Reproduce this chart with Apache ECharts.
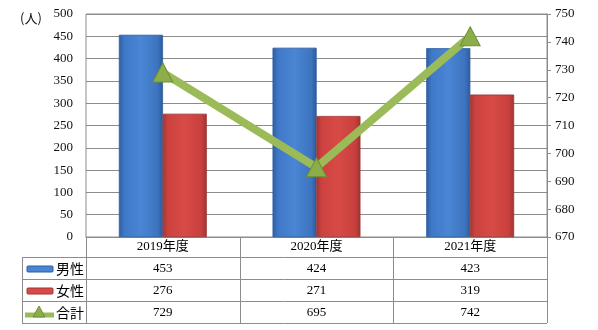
<!DOCTYPE html>
<html><head><meta charset="utf-8">
<script src="https://cdn.jsdelivr.net/npm/echarts@6/dist/echarts.min.js"></script>
<style>html,body{margin:0;padding:0;background:#fff}#c{width:598px;height:330px}</style>
</head><body><div id="c"></div>
<script>
const categories = ['2019年度', '2020年度', '2021年度'];
const maleValues = [453, 424, 423];
const femaleValues = [276, 271, 319];
const totalValues = [729, 695, 742];
const seriesNames = ['男性', '女性', '合計'];
const leftTicks = [0, 500, 50];
const rightTicks = [670, 750, 10];
const unitLabel = '(人)';

const chart = echarts.init(document.getElementById('c'), null, {renderer: 'canvas'});
const G = {left: 86, right: 51, top: 14, bottom: 93};
const numFont = '"Liberation Serif","Noto Sans CJK JP",serif';
const jpFont = '"Noto Sans CJK JP","Liberation Sans",sans-serif';
const grid = '#8c8c8c';

const blueGrad = new echarts.graphic.LinearGradient(0,0,1,0,[
  {offset:0,color:'#2f5fa3'},{offset:0.12,color:'#3f78c6'},{offset:0.5,color:'#4a86d4'},{offset:0.88,color:'#3d74bf'},{offset:1,color:'#2c5a9b'}]);
const redGrad = new echarts.graphic.LinearGradient(0,0,1,0,[
  {offset:0,color:'#a33734'},{offset:0.12,color:'#cc423f'},{offset:0.5,color:'#d84a46'},{offset:0.88,color:'#c8403d'},{offset:1,color:'#9e3532'}]);

chart.setOption({
  animation: false,
  grid: {left: G.left, right: G.right, top: G.top, bottom: G.bottom, show: true, borderColor: grid, borderWidth: 1},
  xAxis: {type: 'category', data: categories,
    axisLine: {show: true, lineStyle: {color: grid}}, axisTick: {show: false}, axisLabel: {show: false}},
  yAxis: [
    {type: 'value', min: leftTicks[0], max: leftTicks[1], interval: leftTicks[2],
     axisLine: {show: false}, axisTick: {show: false},
     splitLine: {lineStyle: {color: grid}},
     axisLabel: {color: '#111', fontFamily: numFont, fontSize: 13, margin: 13}},
    {type: 'value', min: rightTicks[0], max: rightTicks[1], interval: rightTicks[2], position: 'right',
     axisLine: {show: true, lineStyle: {color: grid}}, axisTick: {show: true, length: 4, lineStyle: {color: grid}},
     splitLine: {show: false},
     axisLabel: {color: '#111', fontFamily: numFont, fontSize: 13, margin: 8}}
  ],
  series: [
    {name: seriesNames[0], type: 'bar', data: maleValues, barGap: '0%', barCategoryGap: '43%',
     itemStyle: {color: blueGrad, borderColor: '#2d5c9e', borderWidth: 0.5}},
    {name: seriesNames[1], type: 'bar', data: femaleValues,
     itemStyle: {color: redGrad, borderColor: '#9e3532', borderWidth: 0.5}},
    {name: seriesNames[2], type: 'line', yAxisIndex: 1, data: totalValues,
     lineStyle: {color: '#9bbb59', width: 8}, symbol: 'triangle', symbolSize: [20, 19],
     itemStyle: {color: '#8cae4a', borderColor: '#6f8f35', borderWidth: 1}, z: 5}
  ]
});

// data table below the chart
const W = 598 - G.left - G.right;
const colW = W / categories.length;
const y0 = 330 - G.bottom;
const rowH = [20, 22, 22, 22];
const rowY = [y0];
for (const h of rowH) rowY.push(rowY[rowY.length-1] + h);
const tableLeft = 22;
const gfx = [];
const ln = (x1,y1,x2,y2) => gfx.push({type:'line', shape:{x1,y1,x2,y2}, style:{stroke:grid, lineWidth:1}, silent:true});
for (let i = 0; i <= categories.length; i++) {
  const x = Math.round(G.left + colW * i) + 0.5;
  ln(x, y0, x, rowY[4]);
}
ln(tableLeft + 0.5, rowY[1], tableLeft + 0.5, rowY[4]);
for (let r = 1; r <= 4; r++) ln(tableLeft, rowY[r] + 0.5, G.left + W, rowY[r] + 0.5);
categories.forEach((c, i) => {
  gfx.push({type:'text', x: G.left + colW*(i+0.5), y: (rowY[0]+rowY[1])/2,
    style:{text:c, fill:'#000', font:'13px ' + numFont, align:'center', verticalAlign:'middle'}});
});
const rows = [maleValues, femaleValues, totalValues];
rows.forEach((vals, r) => {
  const cy = (rowY[r+1] + rowY[r+2]) / 2 + 1;
  vals.forEach((v, i) => {
    gfx.push({type:'text', x: G.left + colW*(i+0.5), y: cy,
      style:{text:String(v), fill:'#000', font:'13px ' + numFont, align:'center', verticalAlign:'middle'}});
  });
  gfx.push({type:'text', x: 56, y: cy, style:{text:seriesNames[r], fill:'#000', font:'14px ' + jpFont, align:'left', verticalAlign:'middle'}});
  if (r === 0) gfx.push({type:'rect', shape:{x:27, y:cy-3, width:26, height:6, r:1}, style:{fill:'#4a86d4', stroke:'#2d5c9e', lineWidth:1}});
  if (r === 1) gfx.push({type:'rect', shape:{x:27, y:cy-3, width:26, height:6, r:1}, style:{fill:'#d84a46', stroke:'#9e3532', lineWidth:1}});
  if (r === 2) {
    gfx.push({type:'line', shape:{x1:25, y1:cy+2, x2:54, y2:cy+2}, style:{stroke:'#9bbb59', lineWidth:5}});
    gfx.push({type:'polygon', shape:{points:[[39,cy-7],[45,cy+4],[33,cy+4]]}, style:{fill:'#8cae4a', stroke:'#6f8f35', lineWidth:1}});
  }
});
gfx.push({type:'text', x: 20, y: 18, style:{text:unitLabel, fill:'#111', font:'13px ' + jpFont, align:'left', verticalAlign:'middle'}});
chart.setOption({graphic: gfx});
</script></body></html>
